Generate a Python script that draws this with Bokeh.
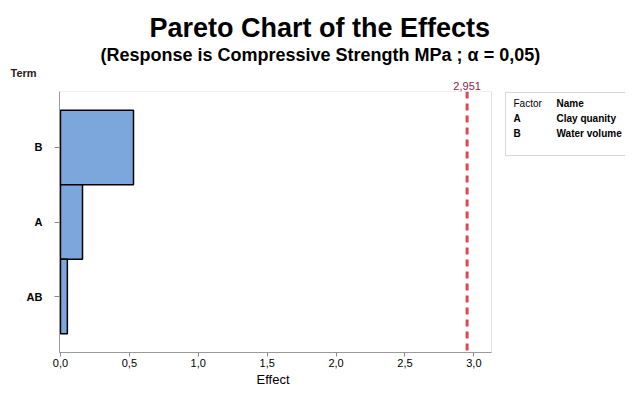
from bokeh.plotting import figure
from bokeh.models import (FactorRange, Range1d, Span, Title, FixedTicker, LinearAxis,
                          Label, BoxAnnotation)
from bokeh.embed import file_html
from bokeh.resources import INLINE

# ---- data ----
terms = ["B", "A", "AB"]
effects = [0.53, 0.16, 0.05]
term_order = ["AB", "A", "B"]
critical = 2.951
critical_label = "2,951"
x_ticks = [0.0, 0.5, 1.0, 1.5, 2.0, 2.5, 3.0]
x_tick_labels = ["0,0", "0,5", "1,0", "1,5", "2,0", "2,5", "3,0"]
factor_codes = ["A", "B"]
factor_names = ["Clay quanity", "Water volume"]
title_text = "Pareto Chart of the Effects"
subtitle_text = "(Response is Compressive Strength MPa ; \u03b1 = 0,05)"

# ---- geometry ----
W, H = 625, 387
BL, BR, BT, BB = 59, 0, 91, 35
FW, FH = W - BL - BR, H - BT - BB
X0, XR = -0.007, 3.128            # visible plot-area extent on the Effect axis
PLOT_W = 432                      # pixel width of the plot area
X1 = X0 + (XR - X0) * FW / PLOT_W
Y0, Y1 = -0.25, 3.25              # categorical synthetic extent


def fx(px):   # canvas pixel -> Effect units
    return X0 + (px - BL) * (XR - X0) / PLOT_W


def fy(py):   # canvas pixel -> synthetic categorical units
    return Y1 - (py - BT) * (Y1 - Y0) / FH


p = figure(width=W, height=H, output_backend="svg", toolbar_location=None,
           y_range=FactorRange(factors=term_order, range_padding=0.25,
                               range_padding_units="absolute"),
           x_range=Range1d(X0, X1),
           min_border_left=BL, min_border_right=BR,
           min_border_top=BT, min_border_bottom=BB)
p.background_fill_color = "white"
p.border_fill_color = "white"
p.outline_line_color = None
p.grid.visible = False

# plot-area box
p.add_layout(BoxAnnotation(left=X0, right=XR, fill_color=None, fill_alpha=0,
                           line_color="#999999", line_width=1))

p.hbar(y=terms, right=effects, left=0, height=1.0,
       fill_color="#7BA7DC", line_color="black", line_width=1.5)

p.add_layout(Span(location=critical, dimension="height", line_color="#E0474C",
                  line_width=3, line_dash="7 5"))

# bottom axis
xa = p.xaxis[0]
xa.bounds = (X0, XR)
xa.ticker = FixedTicker(ticks=x_ticks)
xa.major_label_overrides = {t: l for t, l in zip(x_ticks, x_tick_labels)}
xa.major_label_text_font = "Liberation Sans"
xa.major_label_text_font_size = "11px"
xa.major_label_text_color = "black"
xa.major_label_standoff = 2
xa.minor_tick_line_color = None
xa.major_tick_out = 4
xa.major_tick_in = 0
xa.major_tick_line_color = "#8a8a8a"
xa.axis_line_color = "#9a9a9a"

# axis title centred under the plot area
p.add_layout(Title(text="Effect", align="left", offset=197, standoff=0,
                   text_font="Liberation Sans", text_font_style="normal",
                   text_font_size="13px", text_color="black"), "below")

# left axis
ya = p.yaxis[0]
ya.major_label_text_font = "Liberation Sans"
ya.major_label_text_font_style = "bold"
ya.major_label_text_font_size = "11px"
ya.major_label_text_color = "black"
ya.major_label_standoff = 12
ya.major_tick_out = 5
ya.major_tick_in = 0
ya.major_tick_line_color = "#8a8a8a"
ya.axis_line_color = "#9a9a9a"
ya.minor_tick_line_color = None

# top axis carrying the critical value label
ta = LinearAxis(ticker=FixedTicker(ticks=[critical]),
                major_label_overrides={critical: critical_label},
                axis_line_color=None, major_tick_line_color=None,
                major_tick_out=0, major_tick_in=0, minor_tick_line_color=None,
                major_label_standoff=2,
                major_label_text_font="Liberation Sans", major_label_text_font_size="11px",
                major_label_text_color="#8B1C4A")
p.add_layout(ta, "above")

# titles (added nearest-to-frame first)
p.add_layout(Title(text="Term", align="left", offset=-49, standoff=0,
                   text_font="Liberation Sans", text_font_style="bold",
                   text_font_size="11px", text_color="#2a1a1a"), "above")
p.add_layout(Title(text=subtitle_text, align="left", offset=41, standoff=0,
                   text_font="Liberation Sans", text_font_style="bold",
                   text_font_size="18px", text_color="black"), "above")
p.add_layout(Title(text=title_text, align="left", offset=90, standoff=0,
                   text_font="Liberation Sans", text_font_style="bold",
                   text_font_size="27px", text_color="black"), "above")

# factor table to the right of the plot area
p.add_layout(BoxAnnotation(left=fx(505), right=X1 + 0.2, top=fy(92), bottom=fy(155),
                           fill_color="white", fill_alpha=1.0,
                           line_color="#7a7a7a", line_width=1))
rows_txt = [("Factor", "Name")] + list(zip(factor_codes, factor_names))
for i, (c, n) in enumerate(rows_txt):
    yy = fy(103 + 15 * i)
    p.add_layout(Label(x=fx(513), y=yy, text=c, text_baseline="middle",
                       text_font="Liberation Sans",
                       text_font_style="normal" if i == 0 else "bold",
                       text_font_size="10px", text_color="black"))
    p.add_layout(Label(x=fx(556), y=yy, text=n, text_baseline="middle",
                       text_font="Liberation Sans", text_font_style="bold",
                       text_font_size="10px", text_color="black"))

open("out.html", "w").write(file_html(p, INLINE))
